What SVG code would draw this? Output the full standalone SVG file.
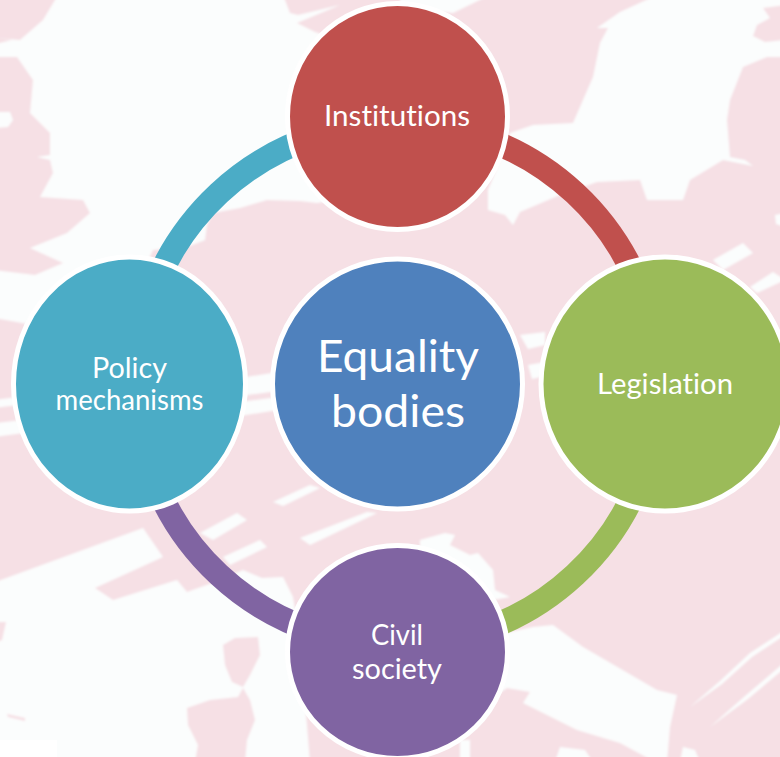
<svg xmlns="http://www.w3.org/2000/svg" width="780" height="757" viewBox="0 0 780 757">
<style>
.sea{fill:#fbfdfd}
.land{fill:#f6e0e5}
.arc{fill:none;stroke-width:24}
.node{stroke:#fff;stroke-width:5}
.lbl{font-family:"Lato","Open Sans",sans-serif;font-size:29px;font-weight:400;font-variant-ligatures:none;fill:#fff;text-anchor:middle}
.big{font-size:45px}
</style>
<defs>
<filter id="soft" filterUnits="userSpaceOnUse" x="-20" y="-20" width="820" height="797"><feGaussianBlur stdDeviation="1.1"/></filter>
</defs>
<g id="map" filter="url(#soft)">
<rect class="land" x="-20" y="-20" width="820" height="797"/>
<path class="sea" d="M58,-5 L283,-5 L290,13 L298,15 L340,5 L297,23 L315,32 L400,60 L400,190 L317,203 L300,201 L267,200 L240,208 L213,213 L207,225 L205,240 L190,246 L153,250 L130,300 L60,330 L-5,318 L-5,270 L35,275 L63,263 L30,248 L67,233 L90,213 L83,200 L40,197 L53,173 L50,160 L37,157 L50,155 L50,133 L30,113 L33,80 L17,57 L-5,57 L-5,44 L12,40 L-5,38 L20,40 L43,20 Z"/>
<path class="sea" d="M-5,112 L10,112 L13,120 L8,127 L-5,128 Z"/>
<path class="sea" d="M400,-5 L490,-5 L453,13 L400,8 Z"/>
<path class="sea" d="M657,-5 L620,12 L597,28 L608,28 L600,43 L593,77 L573,123 L533,125 L510,133 L500,160 L488,190 L488,210 L505,215 L513,225 L520,212 L560,195 L597,182 L640,180 L647,200 L683,200 L690,180 L723,160 L753,166 L745,160 L730,157 L727,120 L730,100 L743,67 L767,57 L785,57 L785,40 L765,42 L753,36 L757,25 L770,18 L763,8 L785,5 L785,-5 Z"/>
<path class="sea" d="M-5,582 L143,528 L163,557 L95,588 L113,600 L177,580 L187,592 L215,582 L243,570 L262,578 L283,577 L293,597 L300,640 L310,762 L-5,762 Z"/>
<path class="land" d="M223,645 L235,638 L258,637 L260,655 L250,675 L243,687 L232,682 L225,665 Z"/>
<path class="land" d="M187,708 L210,700 L238,697 L243,688 L250,700 L255,720 L247,740 L245,762 L195,762 L198,745 L188,725 Z"/>
<path class="land" d="M7,714 L25,718 L25,721 L8,717 Z"/>
<path class="land" d="M-5,622 L6,622 L2,640 L-5,643 Z"/>
<path class="sea" d="M505,633 L533,627 L553,625 L583,647 L657,690 L677,695 L670,727 L667,762 L655,762 L620,743 L577,730 L523,703 L530,692 L507,688 L490,700 Z"/>
<path class="sea" d="M460,740 L470,740 L470,762 L460,762 Z"/>
<path class="sea" d="M555,762 L560,747 L585,750 L593,762 Z"/>
<path class="sea" d="M680,762 L683,747 L695,750 L700,762 Z"/>
<path class="sea" d="M420,540 L445,533 L455,535 L450,545 L470,555 L478,553 L493,570 L495,590 L510,597 L493,600 L505,620 L470,620 L420,570 Z"/>
<path class="sea" d="M200,533 L237,513 L247,520 L213,540 Z"/>
<path class="sea" d="M223,557 L260,540 L267,547 L230,565 Z"/>
<path class="sea" d="M273,502 L310,485 L320,488 L283,506 Z"/>
<path class="sea" d="M300,538 L367,512 L377,513 L310,545 Z"/>
<path class="sea" d="M713,260 L743,243 L753,253 L723,270 Z"/>
<path class="sea" d="M750,287 L773,272 L785,280 L757,293 Z"/>
<path class="sea" d="M520,335 L545,332 L545,345 L528,349 Z"/>
<path class="sea" d="M528,365 L545,362 L545,376 L532,379 Z"/>
<path class="sea" d="M775,215 L785,213 L785,227 L776,224 Z"/>
<path class="sea" d="M240,378 L278,372 L278,391 L240,396 Z"/>
<path class="sea" d="M240,402 L278,397 L278,410 L240,416 Z"/>
<path class="sea" d="M-5,423 L22,420 L24,433 L-5,437 Z"/>
<path class="sea" d="M-5,400 L18,397 L18,405 L-5,408 Z"/>
<path class="sea" d="M690,707 L720,681 L750,653 L785,630 L785,635 L752,657 L722,684 Z"/>
<path class="sea" d="M710,727 L745,696 L785,662 L785,668 L748,699 Z"/>
</g>
<rect x="0" y="740" width="57" height="17" fill="#fff"/>
<g id="connectors">
<path class="arc" stroke="#4bacc6" d="M155,286 A261,261 0 0 1 316,136"/>
<path class="arc" stroke="#c0504d" d="M478,136 A261,261 0 0 1 639,286"/>
<path class="arc" stroke="#9bbb59" d="M639,482 A261,261 0 0 1 478,632"/>
<path class="arc" stroke="#8064a2" d="M316,632 A261,261 0 0 1 155,482"/>
</g>
<g id="node-institutions">
<ellipse class="node" cx="397.5" cy="116.5" rx="110" ry="113" fill="#c0504d"/>
<text class="lbl" x="397" y="126" textLength="146" lengthAdjust="spacingAndGlyphs">Institutions</text>
</g>
<g id="node-legislation">
<ellipse class="node" cx="665" cy="384" rx="124" ry="127" fill="#9bbb59"/>
<text class="lbl" x="665" y="394" textLength="136" lengthAdjust="spacingAndGlyphs">Legislation</text>
</g>
<g id="node-civil-society">
<ellipse class="node" cx="397.5" cy="652" rx="110" ry="106.5" fill="#8064a2"/>
<text class="lbl" x="397" y="645" textLength="52" lengthAdjust="spacingAndGlyphs">Civil</text>
<text class="lbl" x="397" y="679" textLength="90" lengthAdjust="spacingAndGlyphs">society</text>
</g>
<g id="node-policy-mechanisms">
<ellipse class="node" cx="129.5" cy="384" rx="116" ry="127" fill="#4bacc6"/>
<text class="lbl" x="129.5" y="378" textLength="75" lengthAdjust="spacingAndGlyphs">Policy</text>
<text class="lbl" x="129.5" y="410" textLength="148" lengthAdjust="spacingAndGlyphs">mechanisms</text>
</g>
<g id="node-equality-bodies">
<ellipse class="node" cx="397.5" cy="384" rx="125" ry="125" fill="#4f81bd"/>
<text class="lbl big" x="398" y="372" textLength="162" lengthAdjust="spacingAndGlyphs">Equality</text>
<text class="lbl big" x="398" y="427" textLength="134" lengthAdjust="spacingAndGlyphs">bodies</text>
</g>
</svg>
